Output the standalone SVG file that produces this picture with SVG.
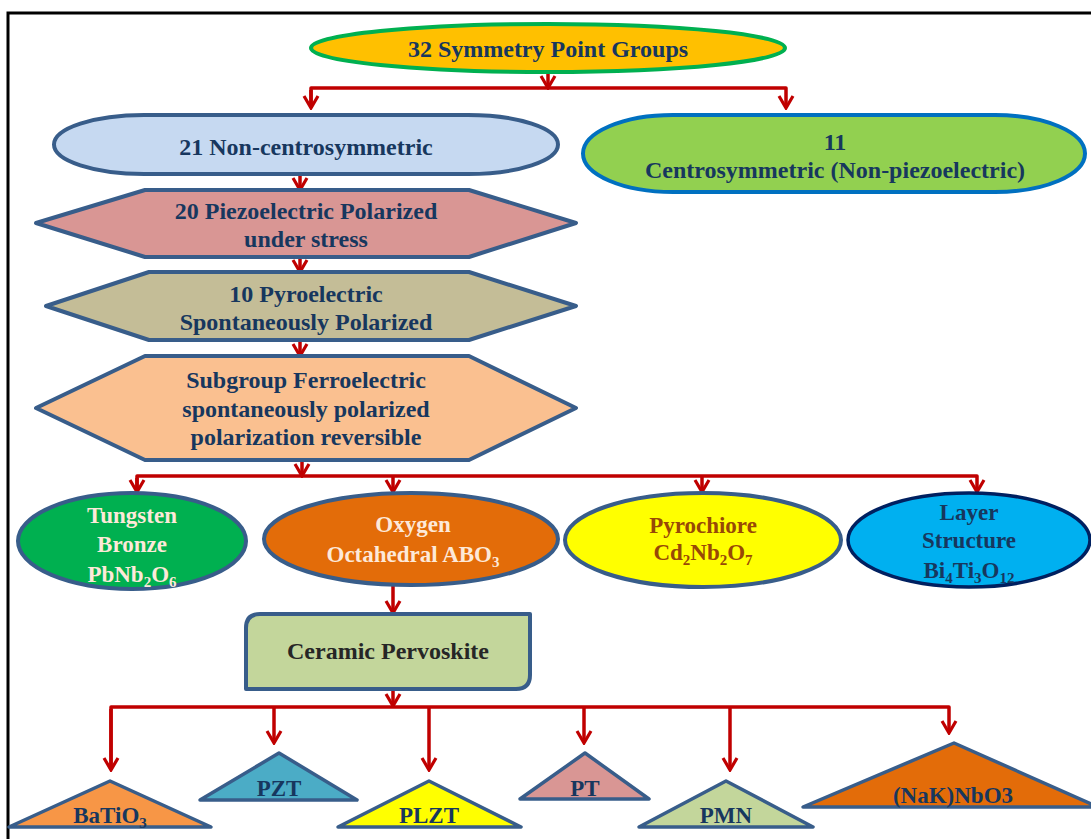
<svg xmlns="http://www.w3.org/2000/svg" width="1091" height="839" viewBox="0 0 1091 839">
<style>
text{font-family:'Liberation Serif','Times New Roman','DejaVu Serif',serif;font-weight:bold;font-size:24px;fill:#17375e;text-anchor:middle}
.s{font-size:23px}
.cream{fill:#fde9d9}
.brown{fill:#984806}
.dark{fill:#262626}
.shp{stroke:#385d8a;stroke-width:4;stroke-linejoin:round}
.tri{stroke:#385d8a;stroke-width:3.5;stroke-linejoin:round}
.c{fill:none;stroke:#c00000;stroke-width:3.5;stroke-linejoin:round}
</style>
<defs>
<marker id="ah" viewBox="-2 -10 16 20" refX="12" refY="0" markerWidth="16" markerHeight="20" markerUnits="userSpaceOnUse" orient="auto">
<path d="M0,-7 L12,0 L0,7" fill="none" stroke="#c00000" stroke-width="3.2"/>
</marker>
</defs>
<rect width="1091" height="839" fill="#ffffff"/>
<path d="M8,839 V13 H1091" fill="none" stroke="#000" stroke-width="3"/>

<g id="connectors">
<path class="c" d="M548,73 V88" marker-end="url(#ah)"/>
<path class="c" d="M311,108 V88 H786 V108" marker-end="url(#ah)"/>
<path class="c" d="M311,90 V108" marker-end="url(#ah)"/>
<path class="c" d="M300,174 V190" marker-end="url(#ah)"/>
<path class="c" d="M300,257 V272" marker-end="url(#ah)"/>
<path class="c" d="M300,340 V356" marker-end="url(#ah)"/>
<path class="c" d="M302,460 V476" marker-end="url(#ah)"/>
<path class="c" d="M137,492 V476 H977 V492" marker-end="url(#ah)"/>
<path class="c" d="M137,478 V492" marker-end="url(#ah)"/>
<path class="c" d="M393,476 V492" marker-end="url(#ah)"/>
<path class="c" d="M702,476 V492" marker-end="url(#ah)"/>
<path class="c" d="M393,585 V613" marker-end="url(#ah)"/>
<path class="c" d="M393,689 V706" marker-end="url(#ah)"/>
<path class="c" d="M111,770 V707 H949 V733" marker-end="url(#ah)"/>
<path class="c" d="M111,709 V770" marker-end="url(#ah)"/>
<path class="c" d="M274,707 V743" marker-end="url(#ah)"/>
<path class="c" d="M429,707 V770" marker-end="url(#ah)"/>
<path class="c" d="M584,707 V743" marker-end="url(#ah)"/>
<path class="c" d="M730,707 V770" marker-end="url(#ah)"/>
</g>

<g id="n-32">
<ellipse cx="548" cy="48" rx="237" ry="24" fill="#ffc000" stroke="#00b050" stroke-width="4"/>
<text x="548" y="57">32 Symmetry  Point Groups</text>
</g>

<g id="n-21">
<rect class="shp" x="54" y="115" width="504" height="59" rx="90" ry="29.5" fill="#c6d9f1"/>
<text x="306" y="155">21 Non-centrosymmetric</text>
</g>

<g id="n-11">
<rect x="583" y="115" width="502" height="77" rx="90" ry="38.5" fill="#92d050" stroke="#0070c0" stroke-width="4"/>
<text x="835" y="150">11</text>
<text x="835" y="178">Centrosymmetric  (Non-piezoelectric)</text>
</g>

<g id="n-20">
<polygon class="shp" points="36,223 145,190 469,190 576,223 469,257 145,257" fill="#d99694"/>
<text x="306" y="219">20 Piezoelectric Polarized</text>
<text x="306" y="247">under  stress</text>
</g>

<g id="n-10">
<polygon class="shp" points="46,306 149,272 469,272 576,306 469,340 149,340" fill="#c4bd97"/>
<text x="306" y="302">10 Pyroelectric</text>
<text x="306" y="330">Spontaneously  Polarized</text>
</g>

<g id="n-ferro">
<polygon class="shp" points="36,408 145,356 469,356 576,408 469,460 145,460" fill="#fac090"/>
<text x="306" y="388">Subgroup  Ferroelectric</text>
<text x="306" y="417">spontaneously  polarized</text>
<text x="306" y="445">polarization  reversible</text>
</g>

<g id="n-tungsten">
<ellipse class="shp" cx="132" cy="541" rx="114" ry="48" fill="#00b050"/>
<text class="s cream" x="132" y="523">Tungsten</text>
<text class="s cream" x="132" y="552">Bronze</text>
<text class="s cream" x="132" y="582">PbNb<tspan font-size="15" dy="5">2</tspan><tspan dy="-5">O</tspan><tspan font-size="15" dy="5">6</tspan></text>
</g>

<g id="n-oxygen">
<ellipse class="shp" cx="411" cy="539" rx="147" ry="46" fill="#e36c09"/>
<text class="s cream" x="413" y="532">Oxygen</text>
<text class="s cream" x="413" y="562">Octahedral ABO<tspan font-size="15" dy="5">3</tspan></text>
</g>

<g id="n-pyro">
<ellipse class="shp" cx="703" cy="540" rx="138" ry="47" fill="#ffff00"/>
<text class="s brown" x="703" y="533">Pyrochiore</text>
<text class="s brown" x="703" y="560">Cd<tspan font-size="15" dy="5">2</tspan><tspan dy="-5">Nb</tspan><tspan font-size="15" dy="5">2</tspan><tspan dy="-5">O</tspan><tspan font-size="15" dy="5">7</tspan></text>
</g>

<g id="n-layer">
<ellipse cx="969" cy="540" rx="121" ry="47" fill="#00b0f0" stroke="#002060" stroke-width="3.5"/>
<text class="s" x="969" y="520">Layer</text>
<text class="s" x="969" y="548">Structure</text>
<text class="s" x="969" y="578">Bi<tspan font-size="15" dy="5">4</tspan><tspan dy="-5">Ti</tspan><tspan font-size="15" dy="5">3</tspan><tspan dy="-5">O</tspan><tspan font-size="15" dy="5">12</tspan></text>
</g>

<g id="n-ceramic">
<path class="shp" stroke-width="3.5" d="M260,614 H530 V675 Q530,689 516,689 H246 V628 Q246,614 260,614 Z" fill="#c3d69b"/>
<text class="dark" x="388" y="659">Ceramic  Pervoskite</text>
</g>

<g id="n-batio3">
<polygon class="tri" points="110,781 211,827 9,827" fill="#f79646"/>
<text class="s" x="110" y="823">BaTiO<tspan font-size="15" dy="5">3</tspan></text>
</g>
<g id="n-pzt">
<polygon class="tri" points="279,753 357,800 200,800" fill="#4bacc6"/>
<text class="s" x="279" y="796">PZT</text>
</g>
<g id="n-plzt">
<polygon class="tri" points="429,781 521,827 338,827" fill="#ffff00"/>
<text class="s" x="429" y="823">PLZT</text>
</g>
<g id="n-pt">
<polygon class="tri" points="585,753 649,799 520,799" fill="#d99694"/>
<text class="s" x="585" y="796">PT</text>
</g>
<g id="n-pmn">
<polygon class="tri" points="726,781 813,827 639,827" fill="#c3d69b"/>
<text class="s" x="726" y="823">PMN</text>
</g>
<g id="n-nak">
<polygon class="tri" points="954,743 1098,807 803,807" fill="#e36c09"/>
<text class="s" x="953" y="803">(NaK)NbO3</text>
</g>
</svg>
